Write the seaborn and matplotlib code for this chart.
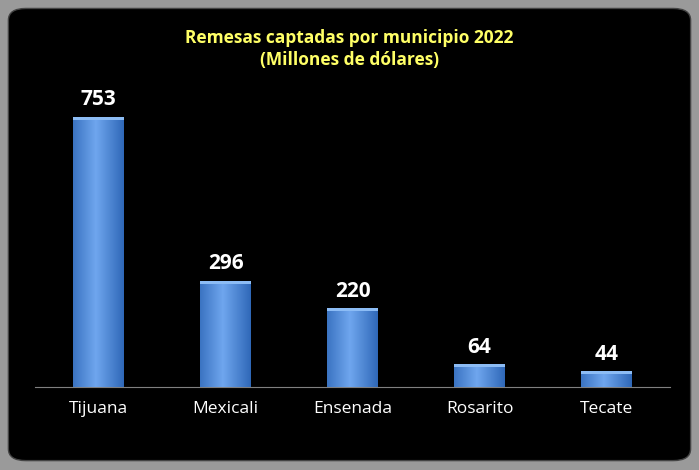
import matplotlib
matplotlib.use("Agg")
import matplotlib.pyplot as plt
import seaborn as sns
import numpy as np
import pandas as pd
from matplotlib.patches import FancyBboxPatch
from matplotlib.colors import LinearSegmentedColormap

municipios = ["Tijuana", "Mexicali", "Ensenada", "Rosarito", "Tecate"]
valores = [753, 296, 220, 64, 44]
titulo = "Remesas captadas por municipio 2022\n(Millones de dólares)"

df = pd.DataFrame({"m": municipios, "v": valores})
fig = plt.figure(figsize=(6.99, 4.70), dpi=100)
fig.patch.set_facecolor("#9a9a9a")
bgax = fig.add_axes([0, 0, 1, 1], zorder=-5)
bgax.set_axis_off()
bgax.set_xlim(0, 1); bgax.set_ylim(0, 1)
bgax.add_patch(FancyBboxPatch((0.012, 0.02), 0.976, 0.962, boxstyle="round,pad=0,rounding_size=0.025",
                              facecolor="black", edgecolor="#444444", lw=1))

ax = fig.add_axes([35/699, 83/470, 635/699, 367/470], zorder=1)
ax.set_facecolor("none")
sns.barplot(data=df, x="m", y="v", ax=ax, color="#3f7fd4", width=0.4, saturation=1)
ax.set_xlim(-0.5, 4.5)
ax.set_ylim(0, 1023)

grad = np.abs(np.linspace(0, 1, 256).reshape(1, -1) - 0.45)
cmap = LinearSegmentedColormap.from_list("b", ["#6fa6ee", "#2f68b8"])
for p in list(ax.patches):
    x0, y0 = p.get_x(), p.get_y()
    w, h = p.get_width(), p.get_height()
    im = ax.imshow(grad, extent=[x0, x0 + w, y0, y0 + h], aspect="auto", cmap=cmap, zorder=3)
    im.set_clip_path(p)
    ax.add_patch(plt.Rectangle((x0, y0 + h - 8), w, 8, facecolor="#8cbcf5", edgecolor="none", zorder=4))
    ax.text(x0 + w / 2, h + 18, f"{int(h)}", ha="center", va="bottom", color="white",
            fontsize=15, fontweight="bold", family="Open Sans")

for s in ["top", "right", "left"]:
    ax.spines[s].set_visible(False)
ax.spines["bottom"].set_color("#808080")
ax.set_yticks([])
ax.set_xlabel(""); ax.set_ylabel("")
ax.tick_params(axis="x", length=0, colors="white", labelsize=12.5, pad=10)
for t in ax.get_xticklabels():
    t.set_family("Open Sans")

fig.text(0.5, 0.895, titulo, ha="center", va="center", color="#ffff66", fontsize=12.5,
         fontweight="bold", family="Open Sans", linespacing=1.3)
fig.savefig("out.png", dpi=100, facecolor=fig.get_facecolor())
